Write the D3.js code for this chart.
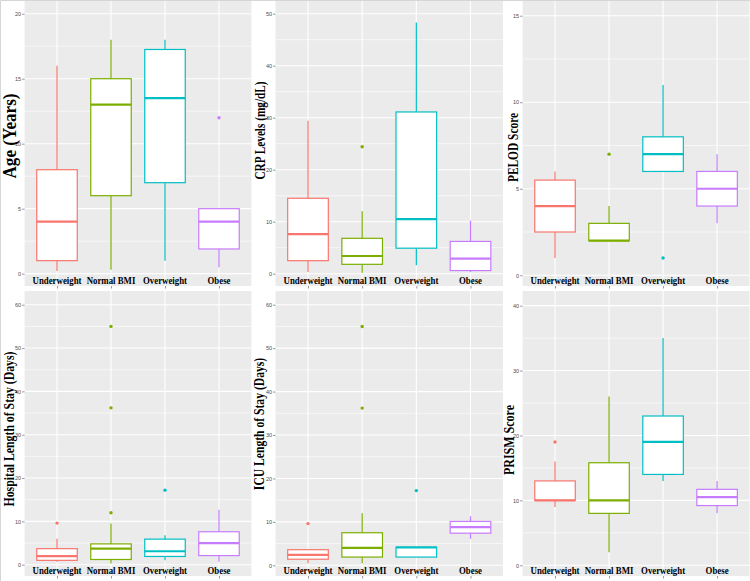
<!DOCTYPE html>
<html>
<head>
<meta charset="utf-8">
<script src="https://cdn.jsdelivr.net/npm/d3@7"></script>
<style>
  body { margin: 0; background: #fff; }
  svg { display: block; }
  .tick text { font-family: "Liberation Sans", Arial, sans-serif; }
</style>
</head>
<body>
<div id="chart"></div>
<script>
// boxplots of clinical variables by BMI group (6 panels)
const width = 750, height = 581;

const groups = ["Underweight", "Normal BMI", "Overweight", "Obese"];
const colors = ["#F8766D", "#7CAE00", "#00BFC4", "#C77CFF"];

// each row: [lower whisker, Q1, median, Q3, upper whisker]
const ageStats = [[0.2, 1, 4, 8, 16], [0.3, 6, 13, 15, 18], [1, 7, 13.5, 17.25, 18], [0.5, 1.9, 4, 5, 5]];
const ageOut = [[], [], [], [12]];

const crpStats = [[0.3, 2.5, 7.6, 14.5, 29.4], [0.2, 1.8, 3.4, 6.8, 12], [1.6, 4.9, 10.5, 31.1, 48.3], [0.3, 0.6, 2.9, 6.2, 10.2]];
const crpOut = [[], [24.4], [], []];

const pelodStats = [[1, 2.5, 4, 5.5, 6], [2, 2, 2, 3, 4], [6, 6, 7, 8, 11], [3, 4, 5, 6, 7]];
const pelodOut = [[], [7], [1], []];

const hospStats = [[0.7, 1, 2, 3.7, 6], [0.3, 1.2, 3.7, 4.8, 9.5], [1, 1.9, 3.1, 5.9, 6.8], [0.7, 2.1, 5, 7.6, 12.7]];
const hospOut = [[9.6], [12, 36.2, 55], [17.2], []];

const icuStats = [[0.5, 1.4, 2.4, 3.6, 3.6], [0.5, 1.9, 4, 7.5, 12], [1.9, 1.9, 4.1, 4.2, 4.2], [6.1, 7.4, 8.8, 10.1, 11.3]];
const icuOut = [[9.6], [36.2, 55], [17.2], []];

const prismStats = [[9, 10, 10, 13, 16], [2, 8, 10, 15.8, 26], [13, 14, 19, 23, 35], [8, 9.2, 10.5, 11.7, 13]];
const prismOut = [[19], [], [], []];

// y tick values and visible axis limits per panel
const ageTicks = [0, 5, 10, 15, 20], ageLim = [-0.95, 20.98];
const crpTicks = [0, 10, 20, 30, 40, 50], crpLim = [-2.37, 52.44];
const pelodTicks = [0, 5, 10, 15], pelodLim = [-0.62, 15.85];
const losTicks = [0, 10, 20, 30, 40, 50, 60], hospLim = [-2.61, 63.17], icuLim = [-2.46, 63.16];
const prismTicks = [0, 10, 20, 30, 40], prismLim = [-1.65, 42.26];

const panels = [
  { title: "Age (Years)", stats: ageStats, out: ageOut, ticks: ageTicks, lim: ageLim,
    x0: 24.6, x1: 251.4, y0: 1, y1: 286, tx: 10, ty: 136, fs: 18, sq: 0.95 },
  { title: "CRP Levels (mg/dL)", stats: crpStats, out: crpOut, ticks: crpTicks, lim: crpLim,
    x0: 275.5, x1: 503, y0: 1, y1: 286, tx: 259.5, ty: 130.5, fs: 15, sq: 0.75 },
  { title: "PELOD Score", stats: pelodStats, out: pelodOut, ticks: pelodTicks, lim: pelodLim,
    x0: 522.6, x1: 749.5, y0: 1, y1: 286, tx: 512.5, ty: 147.5, fs: 15, sq: 0.76 },
  { title: "Hospital Length of Stay (Days)", stats: hospStats, out: hospOut, ticks: losTicks, lim: hospLim,
    x0: 24.6, x1: 251.4, y0: 291, y1: 576, tx: 8.5, ty: 429, fs: 15, sq: 0.785 },
  { title: "ICU Length of Stay (Days)", stats: icuStats, out: icuOut, ticks: losTicks, lim: icuLim,
    x0: 275.5, x1: 503, y0: 291, y1: 576, tx: 258.5, ty: 424, fs: 15, sq: 0.775 },
  { title: "PRISM Score", stats: prismStats, out: prismOut, ticks: prismTicks, lim: prismLim,
    x0: 522.6, x1: 749.5, y0: 291, y1: 576, tx: 509, ty: 440, fs: 15, sq: 0.8 }
];

const svg = d3.select("#chart")
  .append("svg")
  .attr("width", width)
  .attr("height", height)
  .attr("viewBox", [0, 0, width, height]);

// faint frame on top / left edge
svg.append("path")
  .attr("d", `M0.5,${height}V0.5H${width}`)
  .attr("fill", "none")
  .attr("stroke", "#d6d6d6");

function drawPanel(p) {
  const g = svg.append("g");

  const x = d3.scalePoint()
    .domain(groups)
    .range([p.x0, p.x1])
    .padding(0.6);
  const step = x.step();

  const y = d3.scaleLinear()
    .domain(p.lim)
    .range([p.y1, p.y0]);

  g.append("rect")
    .attr("x", p.x0).attr("y", p.y0)
    .attr("width", p.x1 - p.x0).attr("height", p.y1 - p.y0)
    .attr("fill", "#EBEBEB");

  // minor grid halfway between major ticks
  const minor = d3.pairs(p.ticks).map(([a, b]) => (a + b) / 2);
  const last = p.ticks[p.ticks.length - 1], d = p.ticks[1] - p.ticks[0];
  if (last + d / 2 < p.lim[1]) minor.push(last + d / 2);
  g.append("g").selectAll("line")
    .data(minor)
    .join("line")
    .attr("x1", p.x0).attr("x2", p.x1)
    .attr("y1", v => y(v)).attr("y2", v => y(v))
    .attr("stroke", "#fff").attr("stroke-width", 0.6);

  g.append("g").selectAll("line")
    .data(p.ticks)
    .join("line")
    .attr("x1", p.x0).attr("x2", p.x1)
    .attr("y1", v => y(v)).attr("y2", v => y(v))
    .attr("stroke", "#fff").attr("stroke-width", 1.1);

  g.append("g").selectAll("line")
    .data(groups)
    .join("line")
    .attr("x1", c => x(c)).attr("x2", c => x(c))
    .attr("y1", p.y0).attr("y2", p.y1)
    .attr("stroke", "#fff").attr("stroke-width", 1.1);

  // axes
  g.append("g")
    .attr("transform", `translate(${p.x0},0)`)
    .call(d3.axisLeft(y).tickValues(p.ticks).tickSize(2.5).tickPadding(1))
    .call(a => a.select(".domain").remove())
    .call(a => a.selectAll(".tick line").attr("stroke", "#555").attr("stroke-width", 0.6))
    .call(a => a.selectAll(".tick text").attr("fill", "#4D4D4D").attr("font-size", 5.5));

  g.append("g")
    .attr("transform", `translate(0,${p.y1})`)
    .call(d3.axisBottom(x).tickSize(2.5).tickFormat(""))
    .call(a => a.select(".domain").remove())
    .call(a => a.selectAll(".tick line").attr("stroke", "#555").attr("stroke-width", 0.6));

  // boxes
  const bw = step * 0.75;
  const box = g.append("g").selectAll("g")
    .data(p.stats.map((s, i) => ({ s, i, c: groups[i] })))
    .join("g")
    .attr("stroke", d => colors[d.i])
    .attr("fill", "none");

  box.append("line")
    .attr("x1", d => x(d.c)).attr("x2", d => x(d.c))
    .attr("y1", d => y(d.s[3])).attr("y2", d => y(d.s[4]))
    .attr("stroke-width", 1.2);
  box.append("line")
    .attr("x1", d => x(d.c)).attr("x2", d => x(d.c))
    .attr("y1", d => y(d.s[1])).attr("y2", d => y(d.s[0]))
    .attr("stroke-width", 1.2);
  box.append("rect")
    .attr("x", d => x(d.c) - bw / 2)
    .attr("y", d => y(d.s[3]))
    .attr("width", bw)
    .attr("height", d => Math.max(0.5, y(d.s[1]) - y(d.s[3])))
    .attr("fill", "#fff")
    .attr("stroke-width", 1.2);
  box.append("line")
    .attr("x1", d => x(d.c) - bw / 2).attr("x2", d => x(d.c) + bw / 2)
    .attr("y1", d => y(d.s[2])).attr("y2", d => y(d.s[2]))
    .attr("stroke-width", 2.2);

  // outliers
  g.append("g").selectAll("circle")
    .data(p.out.flatMap((arr, i) => arr.map(v => ({ v, i }))))
    .join("circle")
    .attr("cx", d => x(groups[d.i]))
    .attr("cy", d => y(d.v))
    .attr("r", 1.7)
    .attr("fill", d => colors[d.i]);

  // category labels sit inside the panel bottom
  g.append("g").selectAll("text")
    .data(groups)
    .join("text")
    .attr("transform", c => `translate(${x(c)},${p.y1 - 2.5}) scale(0.84,1)`)
    .attr("text-anchor", "middle")
    .attr("font-family", "'Liberation Serif', 'Times New Roman', serif")
    .attr("font-weight", "bold")
    .attr("font-size", 10.5)
    .attr("fill", "#000")
    .text(c => c);

  // y title
  g.append("text")
    .attr("transform", `translate(${p.tx},${p.ty}) rotate(-90) scale(${p.sq},1)`)
    .attr("text-anchor", "middle")
    .attr("dominant-baseline", "central")
    .attr("font-family", "'Liberation Serif', 'Times New Roman', serif")
    .attr("font-weight", "bold")
    .attr("font-size", p.fs)
    .attr("fill", "#000")
    .text(p.title);
}

panels.forEach(drawPanel);
</script>
</body>
</html>
